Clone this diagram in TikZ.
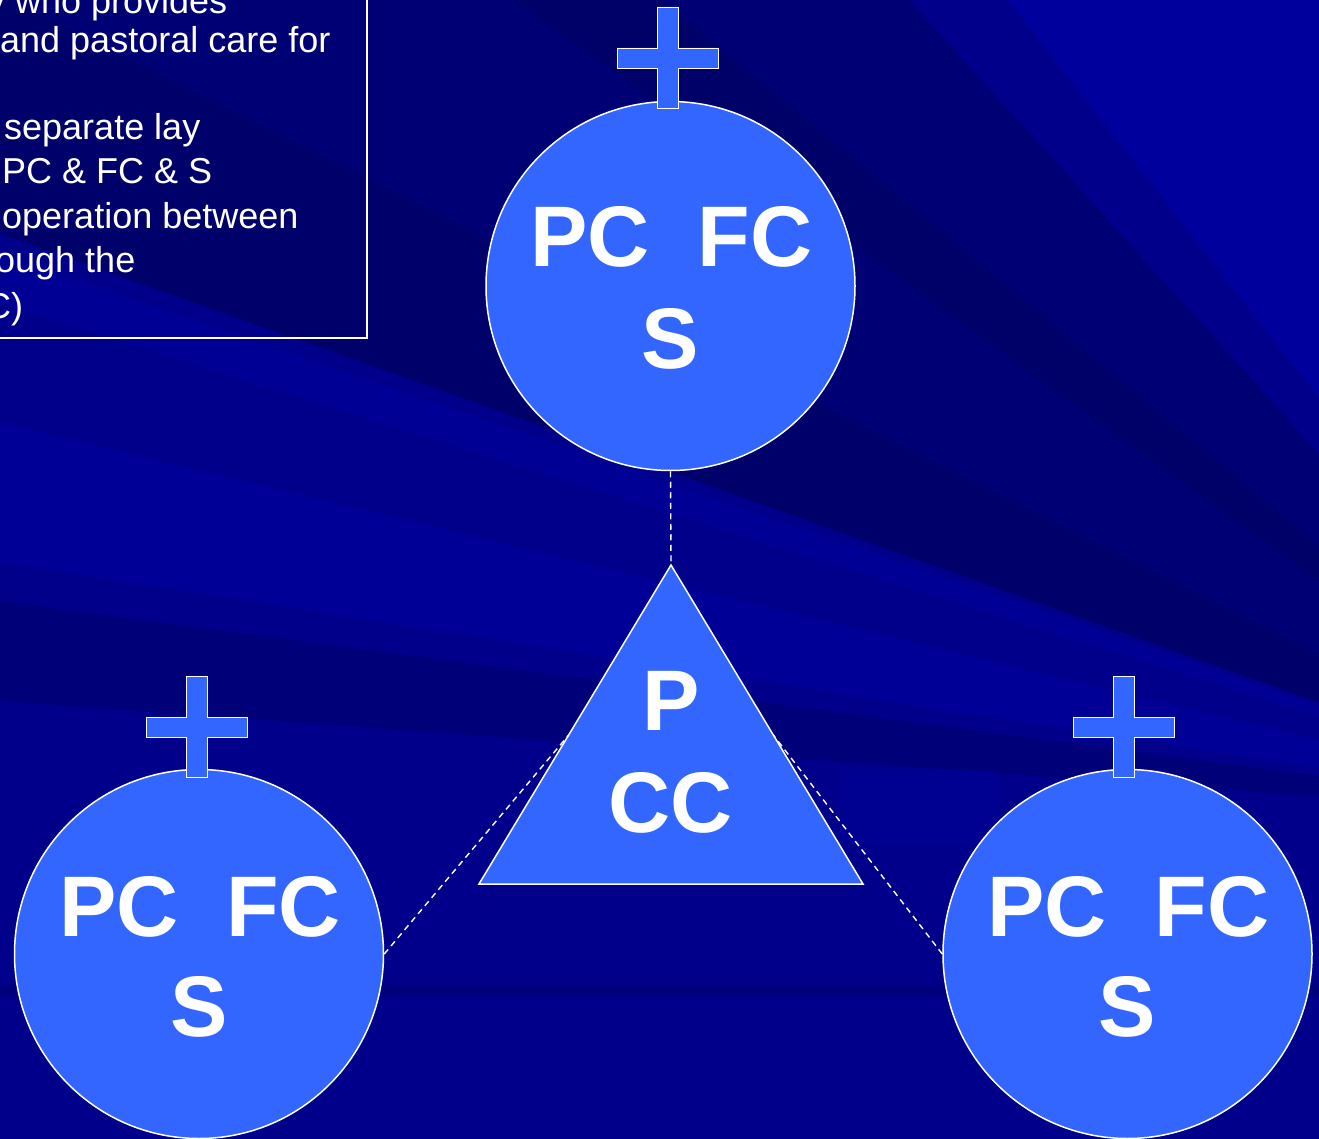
\documentclass[tikz,border=0pt]{standalone}
\usepackage{fontspec}
\setmainfont{Liberation Sans}
\usetikzlibrary{calc}
\definecolor{bgblue}{RGB}{0,0,138}
\definecolor{nodeblue}{RGB}{51,102,255}
\definecolor{darkray}{RGB}{0,0,80}
\definecolor{lightray}{RGB}{0,0,190}
\tikzset{
  pics/holycross/.style={code={
    \draw[crossbar] (-10.5,0) -- (10.5,0) -- (10.5,41) -- (50.5,41) -- (50.5,61) -- (10.5,61)
      -- (10.5,101) -- (-10.5,101) -- (-10.5,61) -- (-50.5,61) -- (-50.5,41) -- (-10.5,41) -- cycle;
  }}
}
\newcommand{\pcfc}{PC\hspace{0.556em}FC}
\begin{document}
\begin{tikzpicture}[x=1pt,y=-1pt,
  bubble/.style={circle, draw=white, line width=1.5pt, fill=nodeblue, minimum size=369pt, inner sep=0pt},
  crossbar/.style={draw=white, line width=0.9pt, fill=nodeblue},
  tribox/.style={draw=white, line width=1.5pt, fill=nodeblue, line join=miter},
  bigtext/.style={text=white, font=\fontsize{86}{100}\selectfont\bfseries, inner sep=0pt, anchor=base},
  boxtext/.style={text=white, font=\fontsize{36}{44}\selectfont, inner sep=0pt, anchor=base west},
  link/.style={draw=white, line width=1.4pt, dash pattern=on 6pt off 4.5pt},
]
\useasboundingbox (0,0) rectangle (1319,1139);
\begin{scope}
\clip (0,0) rectangle (1319,1139);
% background
\fill[bgblue] (0,0) rectangle (1319,1139);
\coordinate (F) at (1650,820);
\fill[darkray, opacity=0.55] (F) -- (-10,-10) -- (-10,230) -- cycle;
\fill[darkray, opacity=0.35] (F) -- (-10,-10) -- (900,-10) -- cycle;
\fill[lightray, opacity=0.35] (F) -- (1000,-10) -- (1330,-10) -- cycle;
\fill[lightray, opacity=0.25] (F) -- (-10,420) -- (-10,560) -- cycle;
\fill[darkray, opacity=0.3] (F) -- (-10,600) -- (-10,700) -- cycle;
\fill[lightray, opacity=0.2] (F) -- (-10,250) -- (-10,300) -- cycle;
\fill[darkray, opacity=0.3] (F) -- (500,-10) -- (650,-10) -- cycle;
\fill[lightray, opacity=0.15] (840,770) rectangle (1000,845);
\fill[darkray, opacity=0.25] (0,985) rectangle (1319,995);
\end{scope}

% text box
\draw[white, line width=1.5pt] (-5,-5) rectangle (367,338);
\node[boxtext] (t1) at (-13,14) {y who provides};
\node[boxtext] (t2) at (0,53) {and pastoral care for};
\node[boxtext] (t3) at (4,140) {separate lay};
\node[boxtext] (t4) at (2,184) {PC \& FC \& S};
\node[boxtext] (t5) at (2,229) {operation between};
\node[boxtext] (t6) at (-5,273) {ough the};
\node[boxtext] (t7) at (-15,319) {C)};

% triangle geometry
\coordinate (apex) at (671,565);
\coordinate (bl) at (479,884);
\coordinate (br) at (863,884);
\coordinate (tl) at ($(apex)!0.533!(bl)$);
\coordinate (tr) at ($(apex)!0.533!(br)$);

% circles
\node[bubble] (topc) at (670.5,286) {};
\node[bubble] (leftc) at (199,954) {};
\node[bubble] (rightc) at (1127.5,954) {};

% connectors
\draw[link] (topc.south) -- (apex);
\draw[link] (leftc.east) -- (tl);
\draw[link] (rightc.west) -- (tr);

% crosses
\pic at (667.5,7) {holycross};
\pic at (196.5,676) {holycross};
\pic at (1124.3,676) {holycross};

% triangle
\draw[tribox] (apex) -- (br) -- (bl) -- cycle;

% labels
\node[bigtext] (topa) at ($(topc.center)+(1,-19)$) {\pcfc};
\node[bigtext] (topb) at ($(topc.center)+(0,82)$) {S};
\node[bigtext] (lefta) at ($(leftc.center)+(1,-18)$) {\pcfc};
\node[bigtext] (leftb) at ($(leftc.center)+(0,82)$) {S};
\node[bigtext] (righta) at ($(rightc.center)+(1,-18)$) {\pcfc};
\node[bigtext] (rightb) at ($(rightc.center)+(0,82)$) {S};
\node[bigtext] (tria) at (671,730) {P};
\node[bigtext] (trib) at (671,832) {CC};
\end{tikzpicture}
\end{document}
